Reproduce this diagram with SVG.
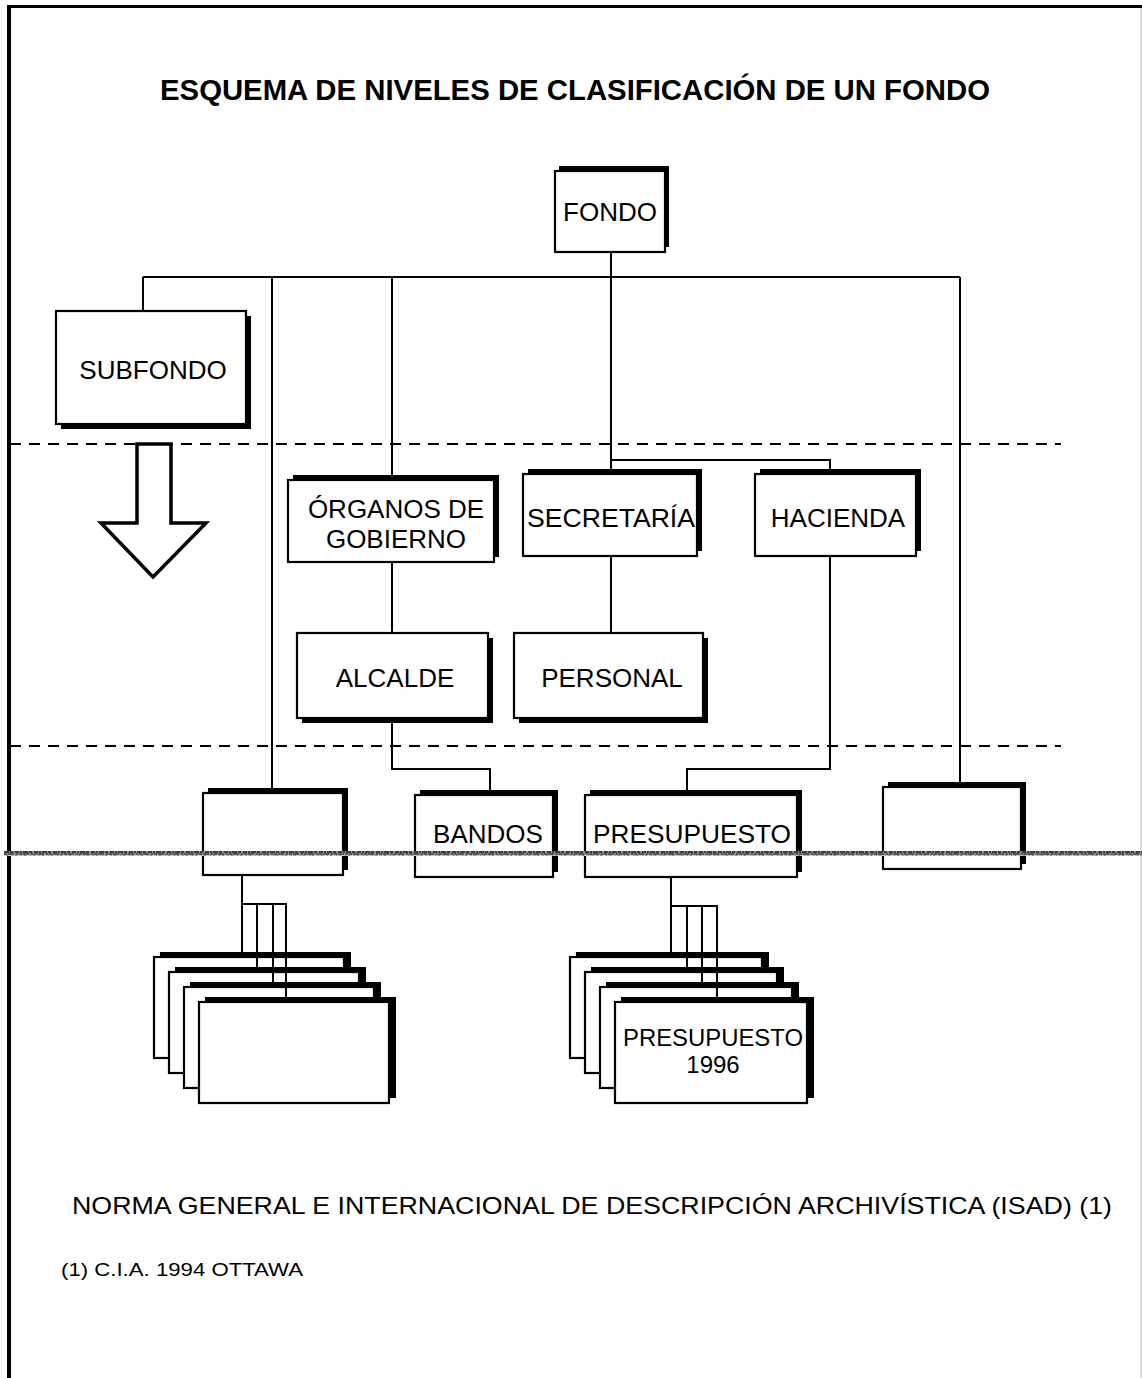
<svg xmlns="http://www.w3.org/2000/svg" width="1142" height="1378" viewBox="0 0 1142 1378">
  <style>
    text { font-family: "Liberation Sans", Arial, sans-serif; fill: #000; }
    .title { font-size: 29px; font-weight: bold; }
    .lbl { font-size: 26px; text-anchor: middle; }
    .lbl-s { font-size: 24px; text-anchor: middle; }
    .foot { font-size: 24px; }
    .note { font-size: 19px; }
    .box { fill: #fff; stroke: #000; stroke-width: 2.2; }
    .shadow { fill: #000; }
    .conn { fill: none; stroke: #000; stroke-width: 2; }
    .dash { fill: none; stroke: #000; stroke-width: 2; stroke-dasharray: 11 8; }
  </style>

  <rect width="1142" height="1378" fill="#fff"/>

  <!-- page frame -->
  <g id="frame">
    <rect x="7" y="5" width="1135" height="3" fill="#000"/>
    <rect x="7" y="5" width="4" height="1373" fill="#000"/>
    <line x1="1141" y1="8" x2="1141" y2="1378" stroke="#bbb" stroke-width="1"/>
  </g>

  <text id="title" class="title" x="160" y="100" textLength="830" lengthAdjust="spacingAndGlyphs">ESQUEMA DE NIVELES DE CLASIFICACIÓN DE UN FONDO</text>

  <!-- level separators -->
  <g id="separators">
    <line class="dash" x1="10" y1="444" x2="1061" y2="444"/>
    <line class="dash" x1="10" y1="746" x2="1061" y2="746"/>
  </g>

  <!-- hollow arrow -->
  <polygon id="level-arrow" points="137,444 171,444 171,523 206,523 153,577 101,523 137,523" fill="#fff" stroke="#000" stroke-width="3.5" stroke-linejoin="miter"/>

  <!-- nodes -->
  <g id="fondo">
    <rect class="shadow" x="559" y="166" width="110" height="81"/>
    <rect class="box" x="555" y="171" width="110" height="81"/>
    <text class="lbl" x="610" y="221">FONDO</text>
  </g>

  <g id="subfondo">
    <rect class="shadow" x="61" y="316" width="190" height="113"/>
    <rect class="box" x="56" y="311" width="190" height="113"/>
    <text class="lbl" x="153" y="379">SUBFONDO</text>
  </g>

  <g id="organos">
    <rect class="shadow" x="293" y="475" width="206" height="82"/>
    <rect class="box" x="288" y="480" width="206" height="82"/>
    <text class="lbl" x="396" y="518">ÓRGANOS DE</text>
    <text class="lbl" x="396" y="548">GOBIERNO</text>
  </g>

  <g id="secretaria">
    <rect class="shadow" x="528" y="469" width="174" height="82"/>
    <rect class="box" x="523" y="474" width="174" height="82"/>
    <text class="lbl" x="611" y="527" textLength="168" lengthAdjust="spacingAndGlyphs">SECRETARÍA</text>
  </g>

  <g id="hacienda">
    <rect class="shadow" x="760" y="469" width="161" height="82"/>
    <rect class="box" x="755" y="474" width="161" height="82"/>
    <text class="lbl" x="838" y="527">HACIENDA</text>
  </g>

  <g id="alcalde">
    <rect class="shadow" x="302" y="638" width="191" height="85"/>
    <rect class="box" x="297" y="633" width="191" height="85"/>
    <text class="lbl" x="395" y="687">ALCALDE</text>
  </g>

  <g id="personal">
    <rect class="shadow" x="519" y="638" width="189" height="85"/>
    <rect class="box" x="514" y="633" width="189" height="85"/>
    <text class="lbl" x="612" y="687">PERSONAL</text>
  </g>

  <g id="serie-1">
    <rect class="shadow" x="208" y="788" width="140" height="82"/>
    <rect class="box" x="203" y="793" width="140" height="82"/>
  </g>

  <g id="bandos">
    <rect class="shadow" x="420" y="790" width="138" height="82"/>
    <rect class="box" x="415" y="795" width="138" height="82"/>
    <text class="lbl" x="488" y="843">BANDOS</text>
  </g>

  <g id="presupuesto">
    <rect class="shadow" x="590" y="790" width="212" height="82"/>
    <rect class="box" x="585" y="795" width="212" height="82"/>
    <text class="lbl" x="692" y="843" textLength="198" lengthAdjust="spacingAndGlyphs">PRESUPUESTO</text>
  </g>

  <g id="serie-2">
    <rect class="shadow" x="888" y="782" width="138" height="82"/>
    <rect class="box" x="883" y="787" width="138" height="82"/>
  </g>

  <!-- expedientes of the first series -->
  <g id="expedientes-1">
    <rect class="shadow" x="160" y="952" width="191" height="101"/>
    <rect class="box" x="154" y="957" width="190" height="101"/>
    <rect class="shadow" x="175" y="967" width="191" height="101"/>
    <rect class="box" x="169" y="972" width="190" height="101"/>
    <rect class="shadow" x="190" y="982" width="191" height="101"/>
    <rect class="box" x="184" y="987" width="190" height="101"/>
    <rect class="shadow" x="205" y="997" width="191" height="101"/>
    <rect class="box" x="199" y="1002" width="190" height="101"/>
  </g>

  <!-- expedientes of PRESUPUESTO -->
  <g id="expedientes-2">
    <rect class="shadow" x="576" y="952" width="193" height="101"/>
    <rect class="box" x="570" y="957" width="192" height="101"/>
    <rect class="shadow" x="591" y="967" width="193" height="101"/>
    <rect class="box" x="585" y="972" width="192" height="101"/>
    <rect class="shadow" x="606" y="982" width="193" height="101"/>
    <rect class="box" x="600" y="987" width="192" height="101"/>
    <rect class="shadow" x="621" y="997" width="193" height="101"/>
    <rect class="box" x="615" y="1002" width="192" height="101"/>
    <text class="lbl-s" x="713" y="1046" textLength="180" lengthAdjust="spacingAndGlyphs">PRESUPUESTO</text>
    <text class="lbl-s" x="713" y="1073">1996</text>
  </g>

  <!-- connectors -->
  <g id="connectors">
    <!-- FONDO trunk and first-level bar -->
    <line class="conn" x1="611" y1="252" x2="611" y2="469"/>
    <line class="conn" x1="143" y1="277" x2="960" y2="277"/>
    <line class="conn" x1="143" y1="277" x2="143" y2="311"/>
    <line class="conn" x1="272" y1="277" x2="272" y2="788"/>
    <line class="conn" x1="392" y1="277" x2="392" y2="475"/>
    <line class="conn" x1="960" y1="277" x2="960" y2="782"/>
    <polyline class="conn" points="611,460 830,460 830,469"/>
    <!-- second level to third level -->
    <line class="conn" x1="392" y1="562" x2="392" y2="633"/>
    <line class="conn" x1="611" y1="556" x2="611" y2="633"/>
    <polyline class="conn" points="392,718 392,769 490,769 490,790"/>
    <polyline class="conn" points="830,556 830,769 687,769 687,790"/>
    <!-- series to expedientes -->
    <line class="conn" x1="242" y1="875" x2="242" y2="952"/>
    <polyline class="conn" points="242,904 286,904 286,997"/>
    <line class="conn" x1="257" y1="904" x2="257" y2="967"/>
    <line class="conn" x1="273" y1="904" x2="273" y2="982"/>
    <line class="conn" x1="671" y1="877" x2="671" y2="952"/>
    <polyline class="conn" points="671,906 717,906 717,997"/>
    <line class="conn" x1="687" y1="906" x2="687" y2="967"/>
    <line class="conn" x1="702" y1="906" x2="702" y2="982"/>
  </g>

  <!-- grey scan line across the page -->
  <g id="scan-line">
    <rect x="4" y="851" width="1138" height="5" fill="#8c8c8c"/>
    <line x1="4" y1="852" x2="1142" y2="852" stroke="#222" stroke-width="1.5" stroke-dasharray="5 1 3 2 4 1 2 1"/>
    <line x1="4" y1="854" x2="1142" y2="854" stroke="#444" stroke-width="1.5" stroke-dasharray="3 1 6 2 2 1"/>
    <line x1="4" y1="855.5" x2="1142" y2="855.5" stroke="#ccc" stroke-width="1" stroke-dasharray="2 2 4 1"/>
  </g>

  <!-- footer -->
  <text class="foot" x="72" y="1214" textLength="1040" lengthAdjust="spacingAndGlyphs">NORMA GENERAL E INTERNACIONAL DE DESCRIPCIÓN ARCHIVÍSTICA (ISAD) (1)</text>
  <text class="note" x="61" y="1276" textLength="242" lengthAdjust="spacingAndGlyphs">(1) C.I.A. 1994 OTTAWA</text>
</svg>
